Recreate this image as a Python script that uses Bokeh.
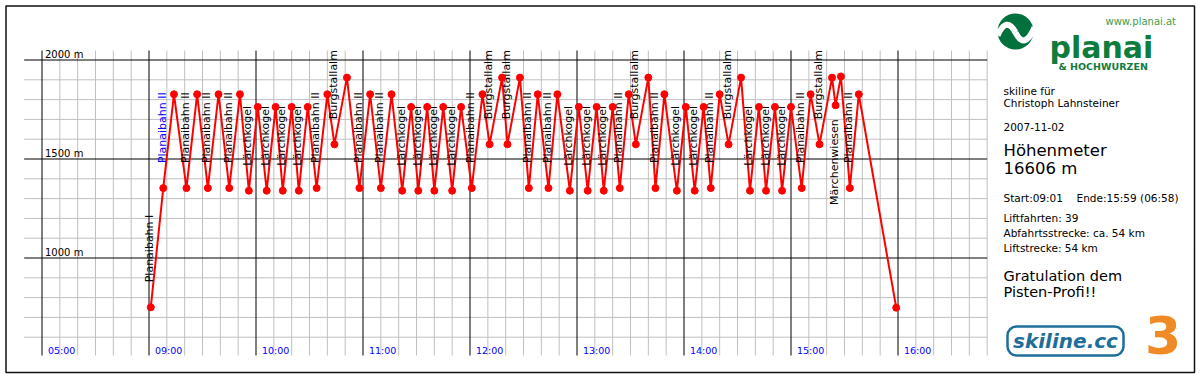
import math
from bokeh.plotting import figure
from bokeh.models import Range1d
from bokeh.core.properties import value
from bokeh.embed import file_html
from bokeh.resources import INLINE

# ---------------- data ----------------
route_times = ["09:01", "09:08", "09:14", "09:21", "09:27", "09:33", "09:39", "09:45", "09:51", "09:56",
               "10:01", "10:06", "10:11", "10:15", "10:20", "10:24", "10:29", "10:34", "10:40", "10:44",
               "10:51", "10:58", "11:04", "11:10", "11:16", "11:22", "11:27", "11:31", "11:36", "11:40",
               "11:45", "11:50", "11:55", "12:01", "12:07", "12:11", "12:18", "12:21", "12:28", "12:33",
               "12:38", "12:44", "12:49", "12:56", "13:01", "13:06", "13:11", "13:15", "13:20", "13:24",
               "13:29", "13:33", "13:40", "13:44", "13:49", "13:56", "14:01", "14:06", "14:11", "14:15",
               "14:20", "14:25", "14:32", "14:37", "14:42", "14:46", "14:51", "14:55", "15:00", "15:06",
               "15:11", "15:16", "15:23", "15:25", "15:28", "15:33", "15:38", "15:59"]
route_alts = [751, 1353, 1827, 1353, 1827, 1353, 1827, 1353, 1827, 1340,
              1763, 1340, 1763, 1340, 1763, 1340, 1763, 1353, 1827, 1574,
              1911, 1353, 1827, 1353, 1827, 1340, 1763, 1340, 1763, 1340,
              1763, 1340, 1763, 1353, 1827, 1574, 1911, 1574, 1911, 1353,
              1827, 1353, 1827, 1340, 1763, 1340, 1763, 1340, 1763, 1353,
              1827, 1574, 1911, 1353, 1827, 1340, 1763, 1340, 1763, 1353,
              1827, 1574, 1911, 1340, 1763, 1340, 1763, 1340, 1763, 1353,
              1827, 1574, 1911, 1771, 1917, 1353, 1827, 749]

# index (into the route) of the valley station of every lift ride
lift_start_idx = [0, 1, 3, 5, 7, 9, 11, 13, 15, 17, 19, 21, 23, 25, 27, 29, 31, 33, 35, 37,
                  39, 41, 43, 45, 47, 49, 51, 53, 55, 57, 59, 61, 63, 65, 67, 69, 71, 73, 75]
lift_names = ["Planaibahn I", "Planaibahn II", "Planaibahn II", "Planaibahn II", "Planaibahn II",
              "Lärchkogel", "Lärchkogel", "Lärchkogel", "Lärchkogel", "Planaibahn II",
              "Burgstallalm", "Planaibahn II", "Planaibahn II", "Lärchkogel", "Lärchkogel",
              "Lärchkogel", "Lärchkogel", "Planaibahn II", "Burgstallalm", "Burgstallalm",
              "Planaibahn II", "Planaibahn II", "Lärchkogel", "Lärchkogel", "Lärchkogel",
              "Planaibahn II", "Burgstallalm", "Planaibahn II", "Lärchkogel", "Lärchkogel",
              "Planaibahn II", "Burgstallalm", "Lärchkogel", "Lärchkogel", "Lärchkogel",
              "Planaibahn II", "Burgstallalm", "Märchenwiesen", "Planaibahn II"]
highlight_lift = 1  # drawn in blue

hour_labels = ["05:00", "09:00", "10:00", "11:00", "12:00", "13:00", "14:00", "15:00", "16:00"]
alt_ticks = [1000, 1500, 2000]
alt_tick_labels = ["1000 m", "1500 m", "2000 m"]

info_lines = ["skiline für", "Christoph Lahnsteiner", "2007-11-02"]
hm_lines = ["Höhenmeter", "16606 m"]
start_text = "Start:09:01"
end_text = "Ende:15:59 (06:58)"
stats_lines = ["Liftfahrten: 39", "Abfahrtsstrecke: ca. 54 km", "Liftstrecke: 54 km"]
greet_lines = ["Gratulation dem", "Pisten-Profi!!"]

# ---------------- geometry ----------------
W, H = 1198, 376
X0 = 41.5      # canvas px of 05:00
PXH = 107.0    # px per hour slot
Y2000 = 59.5   # canvas px of 2000 m
PXM = 0.198    # px per metre
SH = 0.45      # baseline correction (em)

def to_u(hhmm):
    h, m = map(int, hhmm.split(":"))
    return h + m / 60.0 - 8.0   # axis is broken: 05:00 slot, then 09:00 ...

x_rng = Range1d(-X0 / PXH, (W - X0) / PXH)
y_rng = Range1d(2000 - (H - Y2000) / PXM, 2000 + Y2000 / PXM)

p = figure(width=W, height=H, x_range=x_rng, y_range=y_rng, output_backend="svg",
           toolbar_location=None, x_axis_location=None, y_axis_location=None, min_border=0)
p.title.visible = False
p.xgrid.visible = False
p.ygrid.visible = False
p.outline_line_color = None
p.background_fill_color = "white"
p.border_fill_color = "white"
p.extra_x_ranges = {"px": Range1d(0, W)}
p.extra_y_ranges = {"py": Range1d(H, 0)}
PX = dict(x_range_name="px", y_range_name="py")

FONT = value("DejaVu Sans")

def bl(y, fs):
    """page baseline -> anchor y (compensates the renderer's baseline placement)"""
    return y - SH * fs

# ---------------- grid ----------------
g_bot = 2000 - (355 - Y2000) / PXM
g_top = 2000 + (Y2000 - 50) / PXM
g_left, g_right = -1 / 6, 8 + 5 / 6

minor_x = [k / 6 for k in range(1, 54) if k % 6]
major_x = list(range(len(hour_labels)))
minor_y = [a for a in range(600, 2001, 100) if a % 500]
p.segment(x0=minor_x, y0=[g_bot] * len(minor_x), x1=minor_x, y1=[g_top] * len(minor_x),
          line_color="#c0c0c0", line_width=1)
p.segment(x0=[g_left] * len(minor_y), y0=minor_y, x1=[g_right] * len(minor_y), y1=minor_y,
          line_color="#c0c0c0", line_width=1)
p.segment(x0=major_x, y0=[g_bot] * len(major_x), x1=major_x, y1=[g_top] * len(major_x),
          line_color="black", line_width=1)
p.segment(x0=[g_left] * len(alt_ticks), y0=alt_ticks, x1=[g_right] * len(alt_ticks), y1=alt_ticks,
          line_color="black", line_width=1)

p.text(x=[0] * len(alt_ticks), y=alt_ticks, text=alt_tick_labels, x_offset=3, y_offset=-6,
       text_font=FONT, text_font_size="10px", text_color="black",
       text_align="left", text_baseline="alphabetic")
p.text(x=major_x, y=[g_bot] * len(major_x), text=hour_labels, x_offset=6, y_offset=-5.5,
       text_font=FONT, text_font_size="9.5px", text_color="#0000ff",
       text_align="left", text_baseline="alphabetic")

# ---------------- route ----------------
xs = [to_u(t) for t in route_times]
p.line(xs, route_alts, line_color="#ff0000", line_width=2)

up_x, up_y, up_t, up_c = [], [], [], []
dn_x, dn_y, dn_t, dn_c = [], [], [], []
for k, (i, name) in enumerate(zip(lift_start_idx, lift_names)):
    col = "#0000ff" if k == highlight_lift else "black"
    if route_alts[i] > 1700:   # no room above -> label hangs below the valley station
        dn_x.append(xs[i]); dn_y.append(route_alts[i]); dn_t.append(name); dn_c.append(col)
    else:
        up_x.append(xs[i]); up_y.append(route_alts[i]); up_t.append(name); up_c.append(col)

p.text(x=up_x, y=up_y, text=up_t, text_color=up_c, angle=math.pi / 2, x_offset=-1, y_offset=-25,
       text_font=FONT, text_font_size="11px", text_align="left", text_baseline="middle")
p.text(x=dn_x, y=dn_y, text=dn_t, text_color=dn_c, angle=math.pi / 2, x_offset=-1, y_offset=14,
       text_font=FONT, text_font_size="11px", text_align="right", text_baseline="middle")

p.scatter(xs, route_alts, size=7, color="#ff0000")

# ---------------- side panel ----------------
p.quad(left=[5.5], right=[1194], top=[5.5], bottom=[372], fill_color=None,
       line_color="#111111", line_width=1.5, **PX)

# planai logo
p.circle(x=[1015], y=[31], radius=18, fill_color="#00703c", line_color=None, **PX)
p.quadratic(x0=[997, 1015], y0=[35, 32], x1=[1015, 1034], y1=[32, 27], cx=[1006, 1024], cy=[15, 50],
            line_color="white", line_width=6, **PX)
p.text(x=[1105], y=[bl(25, 10)], text=["www.planai.at"], text_font=FONT, text_font_size="10px",
       text_color="#3c9c4c", text_baseline="alphabetic", **PX)
p.text(x=[1049], y=[bl(60, 30)], text=["planai"], text_font=FONT, text_font_size="30px",
       text_font_style="bold", text_color="#0d7c3d", text_baseline="alphabetic", **PX)
p.text(x=[1058], y=[bl(70, 9.5)], text=["& HOCHWURZEN"], text_font=FONT, text_font_size="9.5px",
       text_font_style="bold", text_color="#0d7c3d", text_baseline="alphabetic", **PX)

fs_s = 10.5
p.text(x=[1003] * 3, y=[bl(95, fs_s), bl(107, fs_s), bl(131, fs_s)], text=info_lines,
       text_font=FONT, text_font_size="10.5px", text_color="black", text_baseline="alphabetic", **PX)
p.text(x=[1003] * 2, y=[bl(157.3, 16.5), bl(175, 16.5)], text=hm_lines, text_font=FONT,
       text_font_size="16.5px", text_color="black", text_baseline="alphabetic", **PX)
p.text(x=[1003, 1076], y=[bl(202.7, fs_s)] * 2, text=[start_text, end_text], text_font=FONT,
       text_font_size="10.5px", text_color="black", text_baseline="alphabetic", **PX)
p.text(x=[1003] * 3, y=[bl(222, fs_s), bl(237, fs_s), bl(252, fs_s)], text=stats_lines,
       text_font=FONT, text_font_size="10.5px", text_color="black", text_baseline="alphabetic", **PX)
p.text(x=[1003] * 2, y=[bl(281.7, 14.5), bl(298.3, 14.5)], text=greet_lines, text_font=FONT,
       text_font_size="14.5px", text_color="black", text_baseline="alphabetic", **PX)

# skiline.cc logo
try:
    p.quad(left=[1007], right=[1123], top=[326], bottom=[355], fill_color="white",
           line_color="#1d6f9a", line_width=2.5, border_radius=9, **PX)
except Exception:
    p.quad(left=[1007], right=[1123], top=[326], bottom=[355], fill_color="white",
           line_color="#1d6f9a", line_width=2.5, **PX)
p.text(x=[1065], y=[340.5], text=["skiline.cc"], text_font=FONT, text_font_size="20px",
       text_font_style="bold italic", text_color="#1d6f9a", text_align="center",
       text_baseline="middle", **PX)
# "3" logo
p.text(x=[1162.5], y=[bl(358, 52)], text=["3"], text_font=FONT, text_font_size="52px",
       text_font_style="bold", text_color="#f08a24", text_align="center",
       text_baseline="alphabetic", **PX)

open("out.html", "w").write(file_html(p, INLINE))
